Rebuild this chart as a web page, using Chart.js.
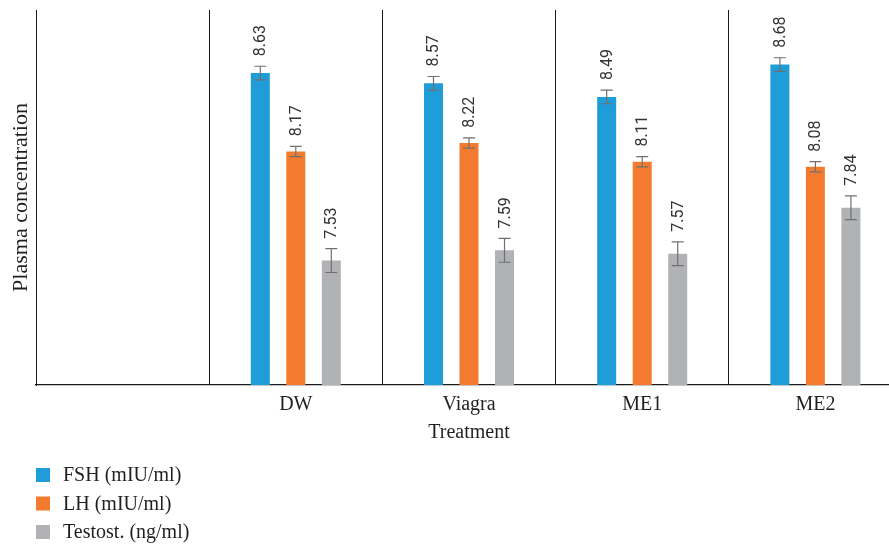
<!DOCTYPE html>
<html>
<head>
<meta charset="utf-8">
<script src="https://cdn.jsdelivr.net/npm/chart.js@4"></script>
<style>
  html, body { margin: 0; padding: 0; background: #fff; overflow: hidden; }
  #wrap { position: absolute; left: 0; top: 0; width: 902px; height: 545px; }
</style>
</head>
<body>
<div id="wrap"><canvas id="c"></canvas></div>
<script>
// ---- data ----
const categories = ['', 'DW', 'Viagra', 'ME1', 'ME2'];
const seriesNames = ['FSH (mIU/ml)', 'LH (mIU/ml)', 'Testost. (ng/ml)'];
const fshValues = [null, 8.63, 8.57, 8.49, 8.68];
const lhValues = [null, 8.17, 8.22, 8.11, 8.08];
const testostValues = [null, 7.53, 7.59, 7.57, 7.84];
const fshErrors = [null, 0.04, 0.04, 0.04, 0.04];
const lhErrors = [null, 0.03, 0.03, 0.03, 0.03];
const testostErrors = [null, 0.07, 0.07, 0.07, 0.07];
const yMin = 6.8, yMax = 9.0;

const colors = ['#1e9dd8', '#f37b2f', '#b1b2b5'];
const serif = '"Liberation Serif", "Times New Roman", serif';

const errorBarsPlugin = {
  id: 'errorBars',
  afterDatasetsDraw(chart) {
    const ctx = chart.ctx;
    const yScale = chart.scales.y;
    chart.data.datasets.forEach((ds, di) => {
      const meta = chart.getDatasetMeta(di);
      meta.data.forEach((bar, i) => {
        const v = ds.data[i];
        if (v == null) return;
        const e = ds.errors[i] || 0;
        const yTop = yScale.getPixelForValue(v + e);
        const yBot = yScale.getPixelForValue(v - e);
        const x = bar.x;
        ctx.save();
        ctx.strokeStyle = '#707070';
        ctx.lineWidth = 1.2;
        ctx.beginPath();
        ctx.moveTo(x, yTop); ctx.lineTo(x, yBot);
        ctx.moveTo(x - 6, yTop); ctx.lineTo(x + 6, yTop);
        ctx.moveTo(x - 6, yBot); ctx.lineTo(x + 6, yBot);
        ctx.stroke();
        // value label, rotated
        ctx.translate(x + 1, yTop - 10);
        ctx.rotate(-Math.PI / 2);
        ctx.fillStyle = '#333333';
        ctx.font = '16px Roboto, "Liberation Sans", sans-serif';
        ctx.textAlign = 'left';
        ctx.textBaseline = 'middle';
        ctx.fillText(v.toFixed(2), 0, 0);
        ctx.restore();
      });
    });
  }
};

const listLegendPlugin = {
  id: 'listLegend',
  afterDraw(chart) {
    const ctx = chart.ctx;
    ctx.save();
    chart.data.datasets.forEach((ds, i) => {
      const cy = 475 + i * 28.5;
      ctx.fillStyle = ds.backgroundColor;
      ctx.fillRect(36, cy - 7, 14, 14);
      ctx.fillStyle = '#231f20';
      ctx.font = '20px ' + serif;
      ctx.textAlign = 'left';
      ctx.textBaseline = 'middle';
      ctx.fillText(ds.label, 63, cy + 1);
    });
    ctx.restore();
  }
};

new Chart(document.getElementById('c'), {
  type: 'bar',
  data: {
    labels: categories,
    datasets: [
      { label: seriesNames[0], data: fshValues, errors: fshErrors, backgroundColor: colors[0] },
      { label: seriesNames[1], data: lhValues, errors: lhErrors, backgroundColor: colors[1] },
      { label: seriesNames[2], data: testostValues, errors: testostErrors, backgroundColor: colors[2] }
    ]
  },
  options: {
    responsive: true,
    maintainAspectRatio: false,
    animation: false,
    categoryPercentage: 0.615,
    barPercentage: 0.535,
    layout: { padding: { left: 0, right: 0, top: 10, bottom: 100 } },
    plugins: {
      legend: { display: false },
      tooltip: { enabled: false }
    },
    scales: {
      x: {
        afterFit(scale) { scale.height = 60; },
        grid: { display: true, offset: true, color: '#1a1a1a', lineWidth: 1, drawTicks: false, tickLength: 0 },
        border: { display: true, color: '#1a1a1a', width: 1.3 },
        ticks: { color: '#231f20', font: { family: serif, size: 20 }, padding: 8, maxRotation: 0 },
        title: { display: true, text: 'Treatment', color: '#231f20', font: { family: serif, size: 20 }, padding: { top: 0, bottom: 0 } }
      },
      y: {
        min: yMin, max: yMax,
        afterFit(scale) { scale.width = 36; },
        grid: { display: false, drawTicks: false },
        border: { display: true, color: '#1a1a1a', width: 1 },
        ticks: { display: false },
        title: { display: true, text: 'Plasma concentration', color: '#231f20', font: { family: serif, size: 22 }, padding: { top: 8, bottom: 0 } }
      }
    }
  },
  plugins: [errorBarsPlugin, listLegendPlugin]
});
</script>
</body>
</html>
